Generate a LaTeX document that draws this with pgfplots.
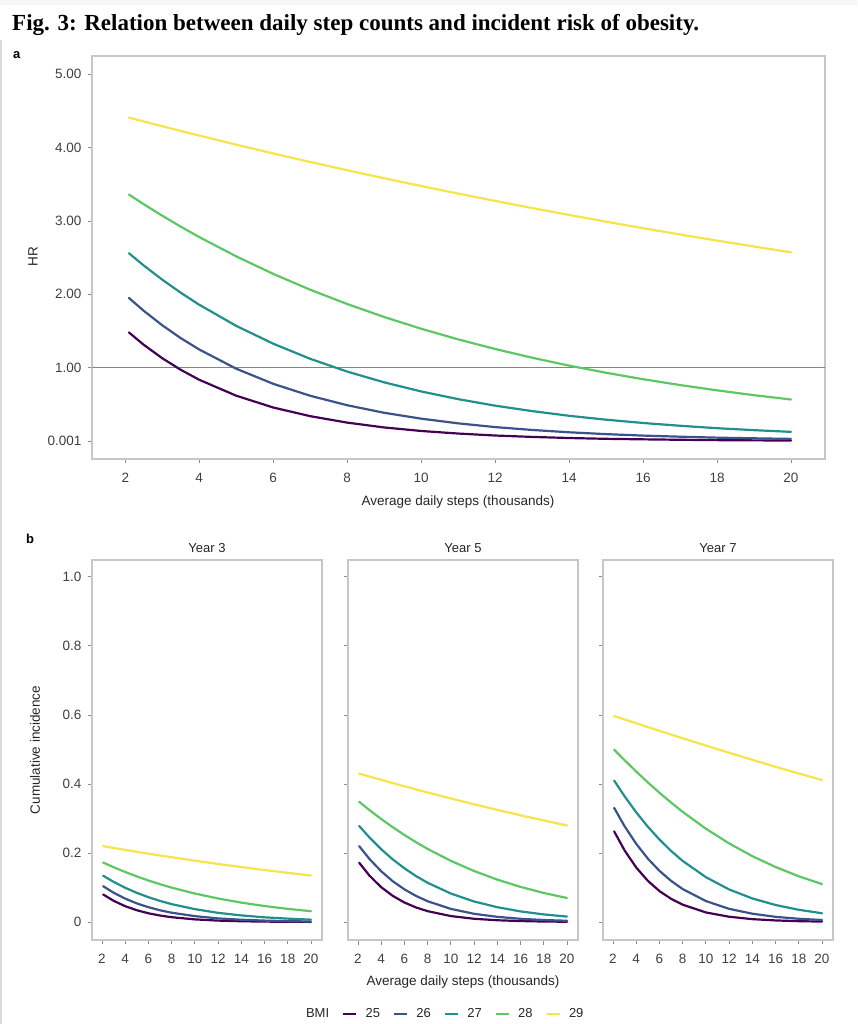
\documentclass[border=0pt]{standalone}
\usepackage{pgfplots}
\usepackage{pgfplotstable}
\pgfplotsset{compat=1.18}
\usepackage{fontspec}
\setmainfont{Liberation Sans}
\newfontfamily\titlefont{Liberation Serif}
\definecolor{v25}{HTML}{440154}
\definecolor{v26}{HTML}{3B528B}
\definecolor{v27}{HTML}{21908C}
\definecolor{v28}{HTML}{5DC863}
\definecolor{v29}{HTML}{F5E54A}
\definecolor{refred}{RGB}{236,90,80}

\pgfplotstableread{
x    h25   h26   h27   h28   h29
2.1  1.480 1.950 2.560 3.360 4.410
2.5  1.312 1.775 2.393 3.229 4.357
3    1.129 1.578 2.200 3.072 4.292
3.5  0.971 1.403 2.022 2.923 4.228
4    0.835 1.248 1.858 2.781 4.165
5    0.618 0.986 1.570 2.518 4.041
6    0.457 0.780 1.327 2.279 3.921
7    0.339 0.617 1.121 2.063 3.805
8    0.251 0.488 0.947 1.868 3.692
9    0.185 0.385 0.800 1.691 3.583
10   0.137 0.305 0.676 1.531 3.477
11   0.102 0.241 0.571 1.386 3.374
12   0.075 0.190 0.482 1.255 3.274
13   0.056 0.151 0.408 1.136 3.177
14   0.041 0.119 0.344 1.028 3.083
15   0.030 0.094 0.291 0.931 2.991
16   0.023 0.074 0.246 0.843 2.902
17   0.017 0.059 0.208 0.763 2.816
18   0.012 0.046 0.175 0.691 2.733
19   0.009 0.037 0.148 0.625 2.652
20   0.007 0.029 0.125 0.566 2.573
}\hrtable

\pgfplotstableread{
x     y
1.1   1
20.92 1
}\reftable

\pgfplotstableread{
x   a25    a26    a27    a28    a29    b25    b26    b27    b28    b29    c25    c26    c27    c28    c29
2.1 0.0799 0.1040 0.1342 0.1724 0.2199 0.1720 0.2201 0.2785 0.3485 0.4301 0.2628 0.3308 0.4099 0.4995 0.5969
3   0.0616 0.0850 0.1165 0.1589 0.2146 0.1340 0.1823 0.2446 0.3241 0.4214 0.2075 0.2775 0.3644 0.4689 0.5869
4   0.0459 0.0679 0.0993 0.1450 0.2091 0.1010 0.1471 0.2109 0.2985 0.4120 0.1580 0.2267 0.3180 0.4361 0.5760
5   0.0342 0.0540 0.0846 0.1322 0.2035 0.0758 0.1181 0.1814 0.2746 0.4026 0.1195 0.1838 0.2763 0.4047 0.5650
6   0.0254 0.0430 0.0720 0.1204 0.1981 0.0566 0.0947 0.1557 0.2522 0.3934 0.0898 0.1485 0.2392 0.3747 0.5541
7   0.0189 0.0341 0.0612 0.1096 0.1928 0.0423 0.0757 0.1332 0.2313 0.3844 0.0674 0.1194 0.2062 0.3462 0.5433
8   0.0140 0.0271 0.0519 0.0998 0.1878 0.0315 0.0603 0.1137 0.2119 0.3754 0.0504 0.0956 0.1772 0.3194 0.5326
10  0.0077 0.0171 0.0374 0.0826 0.1778 0.0173 0.0381 0.0826 0.1773 0.3581 0.0278 0.0609 0.1300 0.2705 0.5114
12  0.0042 0.0106 0.0267 0.0683 0.1683 0.0095 0.0239 0.0596 0.1479 0.3412 0.0154 0.0383 0.0945 0.2278 0.4905
14  0.0023 0.0067 0.0192 0.0563 0.1594 0.0052 0.0151 0.0430 0.1229 0.3250 0.0084 0.0242 0.0684 0.1909 0.4701
16  0.0013 0.0042 0.0137 0.0464 0.1507 0.0029 0.0094 0.0309 0.1019 0.3093 0.0047 0.0151 0.0494 0.1595 0.4500
18  0.0007 0.0026 0.0099 0.0382 0.1426 0.0015 0.0059 0.0221 0.0843 0.2943 0.0025 0.0095 0.0355 0.1326 0.4305
20  0.0004 0.0016 0.0070 0.0314 0.1349 0.0009 0.0037 0.0158 0.0697 0.2797 0.0014 0.0060 0.0255 0.1101 0.4114
}\citable

\pgfplotsset{
  base/.style={
    scale only axis, anchor=south west,
    axis line style={draw=black!22, line width=1.1pt},
    tick pos=left, tick align=outside, major tick length=4.5pt,
    tick style={draw=black!45, line width=0.9pt},
    ticklabel style={font=\fontsize{13.5}{15}\selectfont, text=black!75},
    xticklabel style={text height=10pt, text depth=0pt, yshift=-5pt},
    yticklabel style={xshift=-2.5pt},
    /pgf/number format/assume math mode=true,
  },
  curve/.style={line width=2.2pt, line join=round, line cap=round, no markers},
  panel/.style={base, width=230pt, height=380pt, xmin=1.14, xmax=20.95,
    ymin=-0.052, ymax=1.049, xtick={2,4,...,20},
    ytick={0,0.2,0.4,0.6,0.8,1.0}},
}

\begin{document}
\begin{tikzpicture}
\useasboundingbox (0pt,0pt) rectangle (857pt,1024pt);
\fill[black!4] (0pt,1019pt) rectangle (857pt,1024pt);
\draw[black!14, line width=1.5pt] (0.75pt,0pt) -- (0.75pt,984pt);

% title
\node[anchor=base west, inner sep=0pt] at (12pt,993pt)
  {\titlefont\bfseries\fontsize{23}{26}\selectfont Fig. 3: Relation between daily step counts and incident risk of obesity.};
\node[anchor=base west, inner sep=0pt] at (13pt,965pt) {\fontsize{13}{15}\selectfont\bfseries a};
\node[anchor=base west, inner sep=0pt] at (26pt,480pt) {\fontsize{13}{15}\selectfont\bfseries b};

% panel a
\begin{axis}[base, at={(92pt,565pt)}, width=733pt, height=403pt,
  xmin=1.1, xmax=20.92, ymin=-0.245, ymax=5.25,
  xtick={2,4,...,20}, ytick={0,1,2,3,4,5},
  yticklabels={0.001,1.00,2.00,3.00,4.00,5.00}]
\addplot[draw=refred, line width=1.5pt, no markers] table[x=x, y=y] {\reftable};
\addplot[curve, v25] table[x=x, y=h25] {\hrtable};
\addplot[curve, v26] table[x=x, y=h26] {\hrtable};
\addplot[curve, v27] table[x=x, y=h27] {\hrtable};
\addplot[curve, v28] table[x=x, y=h28] {\hrtable};
\addplot[curve, v29] table[x=x, y=h29] {\hrtable};
\end{axis}
\node[rotate=90, font=\fontsize{13.5}{15}\selectfont, text=black!85] at (33pt,767pt) {HR};
\node[font=\fontsize{13.5}{15}\selectfont, text=black!85] at (458pt,522pt) {Average daily steps (thousands)};

% panel b
\begin{axis}[panel, at={(92pt,84pt)},
  yticklabels={0,0.2,0.4,0.6,0.8,1.0}]
\addplot[curve, v25] table[x=x, y=a25] {\citable};
\addplot[curve, v26] table[x=x, y=a26] {\citable};
\addplot[curve, v27] table[x=x, y=a27] {\citable};
\addplot[curve, v28] table[x=x, y=a28] {\citable};
\addplot[curve, v29] table[x=x, y=a29] {\citable};
\end{axis}

\begin{axis}[panel, at={(348pt,84pt)}, yticklabels={},
  legend columns=-1,
  legend style={at={(-0.205,-0.195)}, anchor=west, draw=none, fill=none,
    font=\fontsize{13}{15}\selectfont, text=black!85,
    /tikz/every even column/.append style={column sep=11pt}},
  legend image code/.code={\draw[#1, line width=2.6pt, line cap=butt] (0pt,0pt) -- (13pt,0pt); \path (19pt,0pt);}]
\addlegendimage{empty legend}\addlegendentry{BMI}
\addplot[curve, v25] table[x=x, y=b25] {\citable};\addlegendentry{25}
\addplot[curve, v26] table[x=x, y=b26] {\citable};\addlegendentry{26}
\addplot[curve, v27] table[x=x, y=b27] {\citable};\addlegendentry{27}
\addplot[curve, v28] table[x=x, y=b28] {\citable};\addlegendentry{28}
\addplot[curve, v29] table[x=x, y=b29] {\citable};\addlegendentry{29}
\end{axis}

\begin{axis}[panel, at={(603pt,84pt)}, yticklabels={}]
\addplot[curve, v25] table[x=x, y=c25] {\citable};
\addplot[curve, v26] table[x=x, y=c26] {\citable};
\addplot[curve, v27] table[x=x, y=c27] {\citable};
\addplot[curve, v28] table[x=x, y=c28] {\citable};
\addplot[curve, v29] table[x=x, y=c29] {\citable};
\end{axis}

\node[rotate=90, font=\fontsize{13.5}{15}\selectfont, text=black!85] at (35pt,274pt) {Cumulative incidence};
\node[font=\fontsize{13.5}{15}\selectfont, text=black!85] at (463pt,42pt) {Average daily steps (thousands)};
\node[anchor=base, font=\fontsize{13}{15}\selectfont, text=black!85] at (207pt,471pt) {Year 3};
\node[anchor=base, font=\fontsize{13}{15}\selectfont, text=black!85] at (463pt,471pt) {Year 5};
\node[anchor=base, font=\fontsize{13}{15}\selectfont, text=black!85] at (718pt,471pt) {Year 7};
\end{tikzpicture}
\end{document}
